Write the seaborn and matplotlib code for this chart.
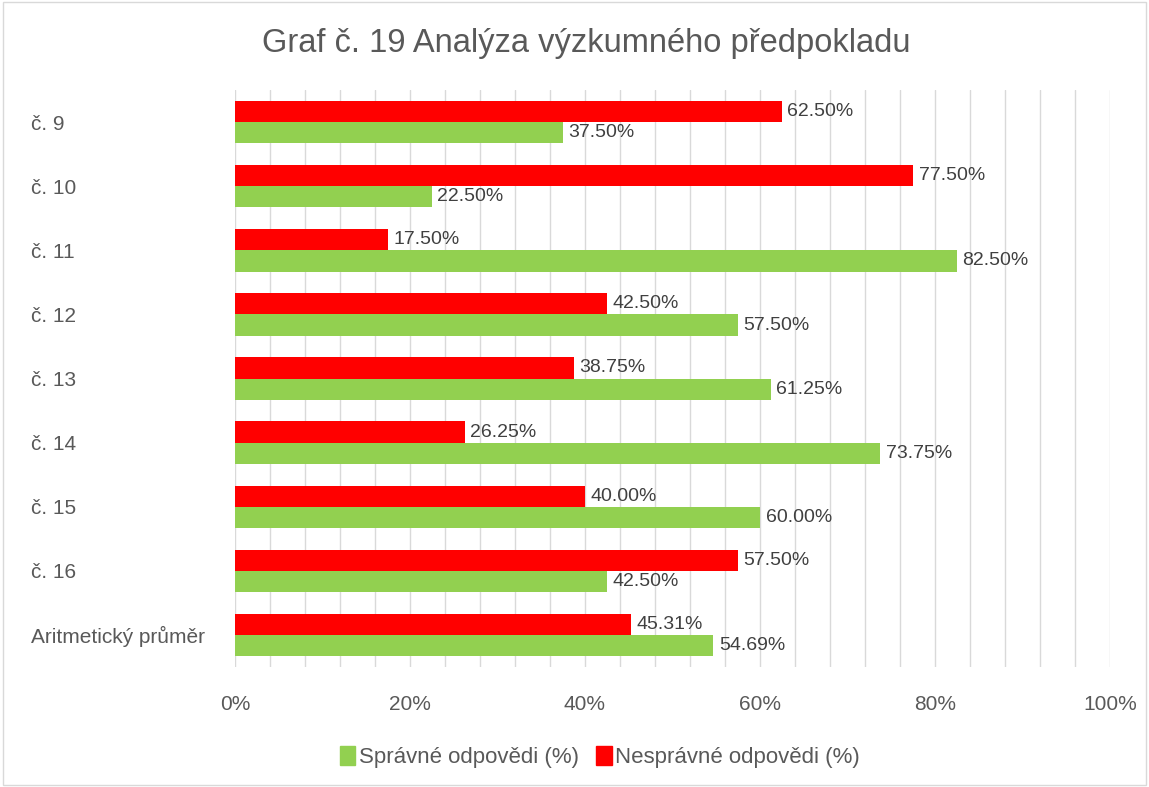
import numpy as np
import pandas as pd
import matplotlib
matplotlib.use('Agg')
import matplotlib.pyplot as plt
import seaborn as sns
from matplotlib.patches import Patch
from matplotlib.ticker import MultipleLocator, PercentFormatter

otazky = ['č. 9', 'č. 10', 'č. 11', 'č. 12', 'č. 13', 'č. 14', 'č. 15', 'č. 16', 'Aritmetický průměr']
spravne = [37.50, 22.50, 82.50, 57.50, 61.25, 73.75, 60.00, 42.50, 54.69]
nespravne = [62.50, 77.50, 17.50, 42.50, 38.75, 26.25, 40.00, 57.50, 45.31]
serie = ['Nesprávné odpovědi (%)', 'Správné odpovědi (%)']
barvy = ['#FF0000', '#92D050']

df = pd.DataFrame({'otazka': otazky * 2,
                   'hodnota': nespravne + spravne,
                   'serie': [serie[0]] * len(otazky) + [serie[1]] * len(otazky)})

sns.set_theme(style='white')
plt.rcParams['font.family'] = ['Liberation Sans', 'DejaVu Sans']

fig = plt.figure(figsize=(11.49, 7.87), dpi=100)
ax = fig.add_axes([0.2045, 0.1525, 0.7615, 0.733])

sns.barplot(data=df, x='hodnota', y='otazka', hue='serie', hue_order=serie,
            palette=barvy, order=otazky, width=0.66, orient='h', ax=ax,
            legend=False, saturation=1, errorbar=None, linewidth=0)

for cont in ax.containers:
    ax.bar_label(cont, labels=[f'{v:.2f}%' for v in cont.datavalues], padding=4,
                 fontsize=14, color='#404040')

ax.set_xlim(0, 100)
ax.set_ylim(8.5, -0.5)
ax.xaxis.set_major_locator(MultipleLocator(20))
ax.xaxis.set_minor_locator(MultipleLocator(4))
ax.xaxis.set_major_formatter(PercentFormatter(decimals=0))
ax.grid(axis='x', which='both', color='#D9D9D9', lw=1)
ax.set_axisbelow(True)
for s in ax.spines.values():
    s.set_visible(False)
ax.set_xlabel('')
ax.set_ylabel('')
ax.tick_params(axis='x', which='both', length=0, pad=20, labelsize=15, labelcolor='#595959')
ax.tick_params(axis='y', length=0, pad=147, labelsize=15, labelcolor='#595959')
for t in ax.get_yticklabels():
    t.set_ha('left')

fig.text(0.51, 0.945, 'Graf č. 19 Analýza výzkumného předpokladu', ha='center', va='center',
         fontsize=23.5, color='#595959')

fig.legend(handles=[Patch(color=barvy[1], label=serie[1]), Patch(color=barvy[0], label=serie[0])],
           loc='center', bbox_to_anchor=(0.522, 0.038), ncol=2, frameon=False, fontsize=16,
           labelcolor='#595959', handlelength=0.7, handleheight=0.9, handletextpad=0.15,
           columnspacing=0.8)

fig.add_artist(plt.Rectangle((0.003, 0.003), 0.994, 0.994, transform=fig.transFigure,
                             fill=False, edgecolor='#D9D9D9', lw=1))

fig.savefig('out.png', dpi=100)
